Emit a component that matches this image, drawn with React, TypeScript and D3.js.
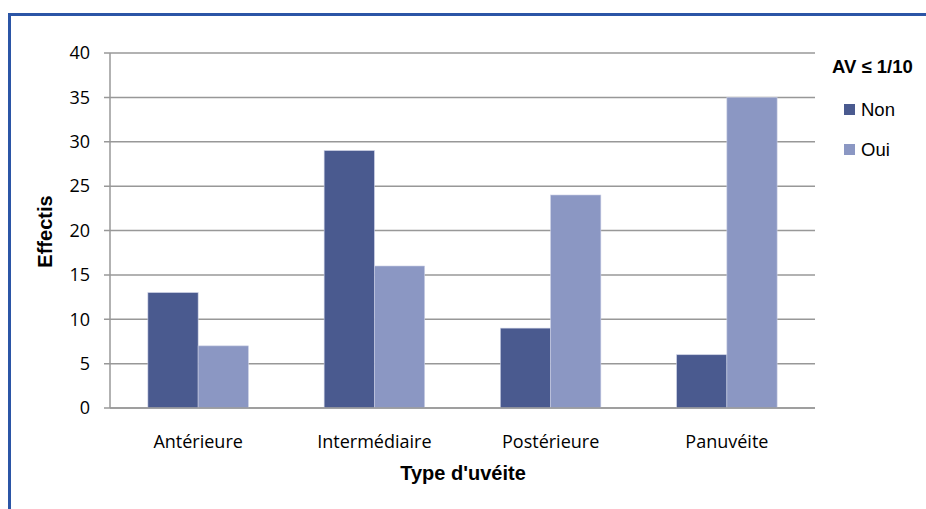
import React from "react";
import * as d3 from "d3";

const categories = ["Antérieure", "Intermédiaire", "Postérieure", "Panuvéite"];
const seriesNames = ["Non", "Oui"];
const nonValues = [13, 29, 9, 6];
const ouiValues = [7, 16, 24, 35];
const yTicks = [0, 5, 10, 15, 20, 25, 30, 35, 40];
const colors = ["#4A5A8F", "#8B97C3"];

export default function App() {
  const W = 926, H = 509;
  const left = 110, right = 815, top = 53, bottom = 408;
  const x = d3.scaleBand<string>().domain(categories).range([left, right]).paddingInner(0.43).paddingOuter(0.215);
  const xs = d3.scaleBand<string>().domain(seriesNames).range([0, x.bandwidth()]);
  const y = d3.scaleLinear().domain([0, 40]).range([bottom, top]);
  const data = [nonValues, ouiValues];
  const bodyFont = "'Open Sans', 'Noto Sans', sans-serif";
  const boldFont = "'Liberation Sans', Arial, sans-serif";
  return (
    <svg width={W} height={H} style={{ position: "absolute", left: 0, top: 0, background: "#fff" }}>
      <rect x={0} y={0} width={W} height={H} fill="#fff" />
      <path d={`M9.5,${H + 5} V14.5 H${W + 5}`} fill="none" stroke="#2B55A6" strokeWidth={3} />
      {yTicks.map((t) => (
        <g key={t}>
          <line x1={104} x2={right} y1={y(t)} y2={y(t)} stroke="#989898" strokeWidth={1.5} />
          <text x={90} y={y(t)} dy="0.35em" textAnchor="end" fontFamily={bodyFont} fontSize={18} fill="#000">{t}</text>
        </g>
      ))}
      <line x1={left} x2={left} y1={top} y2={bottom} stroke="#989898" strokeWidth={1.5} />
      {categories.map((c, i) => (
        <g key={c}>
          {data.map((vals, s) => (
            <rect key={s} x={(x(c) as number) + (xs(seriesNames[s]) as number)} y={y(vals[i])}
              width={xs.bandwidth()} height={y(0) - y(vals[i])} fill={colors[s]} stroke="#C9CEE3" strokeWidth={0.6} />
          ))}
          <text x={(x(c) as number) + x.bandwidth() / 2} y={442} dy="0.35em" textAnchor="middle" fontFamily={bodyFont} fontSize={18} fill="#000">{c}</text>
        </g>
      ))}
      <line x1={left} x2={right} y1={bottom} y2={bottom} stroke="#989898" strokeWidth={1.5} />
      <text x={463} y={473} dy="0.35em" textAnchor="middle" fontFamily={boldFont} fontWeight="bold" fontSize={20} fill="#000">Type d'uvéite</text>
      <text transform={`translate(45,231.5) rotate(-90)`} dy="0.35em" textAnchor="middle" fontFamily={boldFont} fontWeight="bold" fontSize={20} fill="#000">Effectis</text>
      <text x={832} y={66.5} dy="0.35em" fontFamily={boldFont} fontWeight="bold" fontSize={18.5} fill="#000">AV ≤ 1/10</text>
      {seriesNames.map((s, i) => (
        <g key={s}>
          <rect x={844} y={104 + i * 40} width={11} height={11} fill={colors[i]} />
          <text x={861} y={109.5 + i * 40} dy="0.35em" fontFamily={boldFont} fontSize={18.5} fill="#000">{s}</text>
        </g>
      ))}
    </svg>
  );
}
